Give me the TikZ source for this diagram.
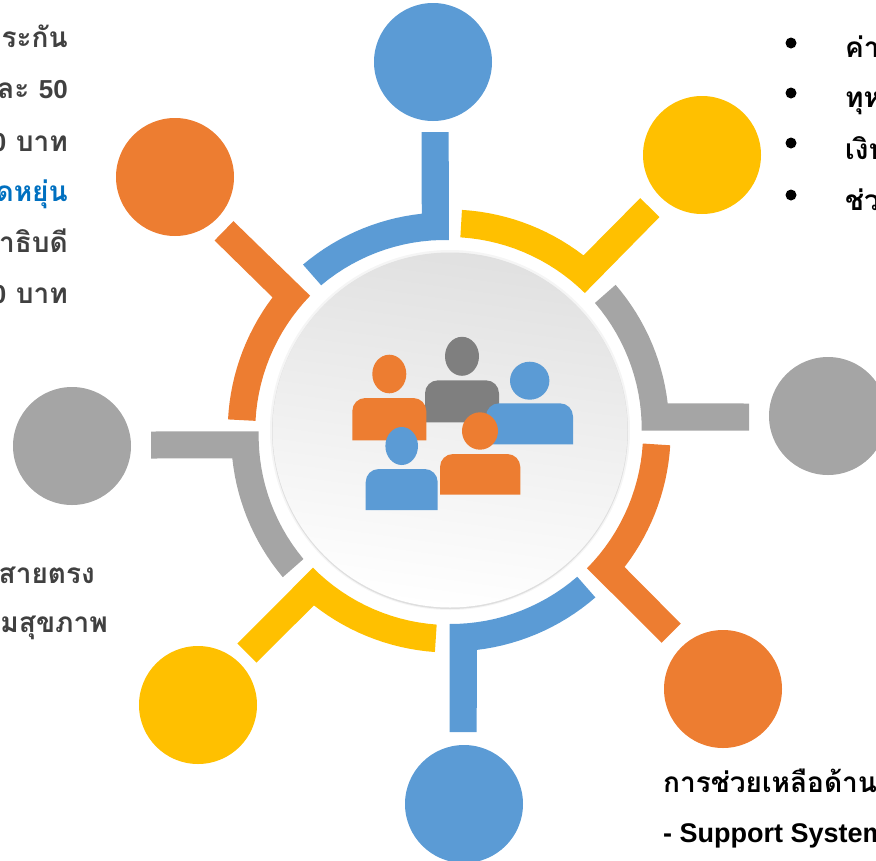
\documentclass[tikz,border=0pt]{standalone}
\usepackage{fontspec}
\newfontfamily\thaifont[Script=Thai]{Loma}
\newfontfamily\latinfont{Liberation Sans}
\definecolor{segblue}{HTML}{5B9BD5}
\definecolor{segorange}{HTML}{ED7D31}
\definecolor{segyellow}{HTML}{FFC000}
\definecolor{seggrey}{HTML}{A5A5A5}
\definecolor{mangrey}{HTML}{7F7F7F}
\definecolor{leftgrey}{HTML}{404040}
\definecolor{leftblue}{HTML}{0070C0}
\tikzset{
	bigdot/.style={circle,minimum size=118pt,inner sep=0pt},
	lefttext/.style={anchor=base east,inner sep=0pt,text=leftgrey,font=\fontsize{28}{28}\thaifont\bfseries},
	righttext/.style={anchor=base west,inner sep=0pt,text=black,font=\fontsize{28}{28}\thaifont\bfseries},
	bulletdot/.style={circle,fill=black,minimum size=11pt,inner sep=0pt}
}

\begin{document}
\begin{tikzpicture}[x=1pt,y=1pt]
\useasboundingbox (0,0) rectangle (876,-860);
\clip (0,0) rectangle (876,-860);

% centre disk
\fill[black!4] (450,-430) circle (180);
\fill[black!13] (450,-431) circle (178);
\shade[top color=black!12,bottom color=white,shading angle=-8] (450,-430) circle (177.5);

% eight segments, turned about the centre
\foreach \ang/\col/\ra/\tip in {0/segblue/191/299,-44.6/segyellow/193.5/300,-90/seggrey/192.5/300,-135/segorange/194.5/300,
	-180/segblue/193/301,-225/segyellow/193/300,-270/seggrey/190.5/298,-314.3/segorange/194/301}
{
	\begin{scope}[shift={(449.2,-431)},rotate=\ang]
	\fill[\col] (-0.5,\tip) -- (-27.5,\tip)
		-- plot[domain=97.2:131.3,samples=16] (\x:{\ra+27.5+(194-\ra)*(\x-90)/41.3})
		-- plot[domain=131.3:90.1,samples=16] (\x:{\ra+(194-\ra)*(\x-90)/41.3}) -- cycle;
	\end{scope}
}

% outer circles
\node[bigdot,fill=segblue] (topblue) at (433,-62) {};
\node[bigdot,fill=segyellow] (topyellow) at (702,-155) {};
\node[bigdot,fill=seggrey] (rightgrey) at (828,-416) {};
\node[bigdot,fill=segorange] (loworange) at (723,-689) {};
\node[bigdot,fill=segblue] (lowblue) at (464,-804) {};
\node[bigdot,fill=segyellow] (lowyellow) at (198,-705) {};
\node[bigdot,fill=seggrey] (leftdot) at (72,-446) {};
\node[bigdot,fill=segorange] (toporange) at (175,-177) {};

% people in the middle
\foreach \hx/\hy/\rx/\ry/\xa/\xb/\ya/\yb/\col in {
	462/356.3/17/19.5/425/499/380.3/422.3/mangrey,
	529.7/380.7/19.7/19/486/573/403.3/444.3/segblue,
	389.3/374/17/19.3/352.3/426.3/398/440.3/segorange,
	401.7/446/16.3/19/365.7/437.7/469/510/segblue,
	480/431/18/18.7/440/520.3/454/494.7/segorange}
{
	\fill[\col] (\xa,-\yb) [rounded corners=13pt] -- (\xa,-\ya) -- (\xb,-\ya) [sharp corners] -- (\xb,-\yb) -- cycle;
	\fill[\col] (\hx,-\hy) ellipse[x radius=\rx,y radius=\ry];
}

% left texts
\node[lefttext] (lineone) at (68,-47) {ระกัน};
\node[lefttext] (linetwo) at (68,-98) {ละ {\fontsize{26}{26}\latinfont 50}};
\node[lefttext] (linethree) at (68,-151) {{\fontsize{26}{26}\latinfont 0} บาท};
\node[lefttext,text=leftblue] (linefour) at (68,-201) {ดหยุ่น};
\node[lefttext] (linefive) at (68,-252) {าธิบดี};
\node[lefttext] (linesix) at (68,-303) {{\fontsize{26}{26}\latinfont 0} บาท};
\node[lefttext] (lineseven) at (95,-583) {สายตรง};
\node[lefttext] (lineeight) at (108,-632) {มสุขภาพ};

% right list
\foreach \y in {43,93,143,195}
{
	\node[bulletdot] (item\y) at (791,-\y) {};
}
\node[righttext] (itemone) at (845,-57) {ค่า};
\node[righttext] (itemtwo) at (845,-107) {ทุห};
\node[righttext] (itemthree) at (845,-159) {เงิน};
\node[righttext] (itemfour) at (845,-210) {ช่ว};

% bottom text
\node[righttext] (helpone) at (663,-792) {การช่วยเหลือด้าน};
\node[righttext,font=\fontsize{27}{27}\latinfont\bfseries] (helptwo) at (663,-842) {- Support System};

\end{tikzpicture}
\end{document}
